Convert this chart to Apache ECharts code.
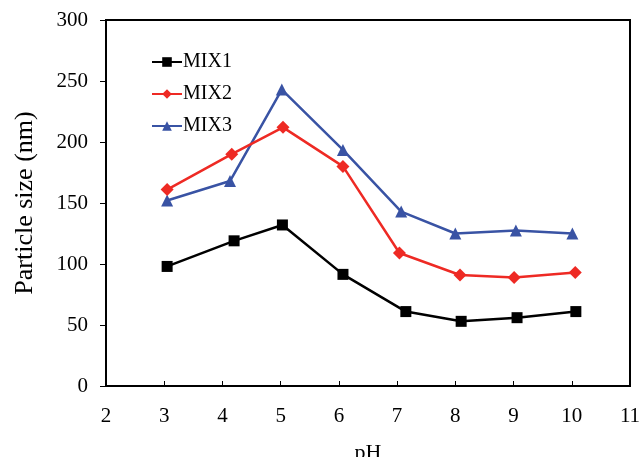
<!DOCTYPE html>
<html><head><meta charset="utf-8">
<script src="https://cdn.jsdelivr.net/npm/echarts@6/dist/echarts.min.js"></script>
<style>html,body{margin:0;padding:0;background:#fff}#c{width:640px;height:457px}</style>
</head><body><div id="c"></div>
<script>
const seriesNames = ['MIX1', 'MIX2', 'MIX3'];
const mix1 = [[3.05, 98], [4.2, 119], [5.03, 132], [6.07, 91.5], [7.15, 61], [8.1, 53], [9.06, 56], [10.07, 61]];
const mix2 = [[3.05, 161], [4.16, 190], [5.04, 212], [6.07, 180], [7.04, 109], [8.08, 91], [9.01, 89], [10.06, 93]];
const mix3 = [[3.05, 152], [4.13, 168], [5.02, 243], [6.07, 193.5], [7.07, 143], [8.0, 125], [9.04, 127.5], [10.01, 125]];
const colors = ['#000000', '#ee2a24', '#3953a4'];
const symbols = ['rect', 'diamond', 'triangle'];
const symbolSizes = [11, 13, 12];
const xTitle = 'pH';
const yTitle = 'Particle size (nm)';

const font = '"Liberation Serif", "Times New Roman", serif';
const chart = echarts.init(document.getElementById('c'), null, {renderer: 'canvas'});
const data = [mix1, mix2, mix3];
chart.setOption({
  animation: false,
  backgroundColor: '#fff',
  grid: {left: 106, right: 10, top: 20, bottom: 71, show: true, borderColor: '#000', borderWidth: 2, containLabel: false, outerBoundsMode: 'none'},
  legend: {
    orient: 'vertical', left: 146, top: 47, itemWidth: 30, itemHeight: 12, itemGap: 12,
    textStyle: {fontFamily: font, fontSize: 20, color: '#000', padding: [0, 0, 0, -4]},
    data: seriesNames
  },
  xAxis: {
    type: 'value', min: 2, max: 11, interval: 1,
    name: xTitle, nameLocation: 'middle', nameGap: 56,
    nameTextStyle: {fontFamily: font, fontSize: 22, color: '#000'},
    axisLine: {show: true, lineStyle: {color: '#000', width: 2}},
    axisTick: {show: true, inside: true, length: 5, lineStyle: {color: '#000', width: 1}},
    axisLabel: {fontFamily: font, fontSize: 21, color: '#000', margin: 20},
    splitLine: {show: false}
  },
  yAxis: {
    type: 'value', min: 0, max: 300, interval: 50,
    name: yTitle, nameLocation: 'middle', nameGap: 68,
    nameTextStyle: {fontFamily: font, fontSize: 26, color: '#000'},
    axisLine: {show: true, lineStyle: {color: '#000', width: 2}},
    axisTick: {show: true, inside: false, length: 6, lineStyle: {color: '#000', width: 1}},
    axisLabel: {fontFamily: font, fontSize: 21, color: '#000', margin: 18},
    splitLine: {show: false}
  },
  series: seriesNames.map((n, i) => ({
    name: n, type: 'line', data: data[i],
    symbol: symbols[i], symbolSize: symbolSizes[i],
    lineStyle: {color: colors[i], width: 2.5},
    itemStyle: {color: colors[i]},
    z: 3 - i
  }))
});
</script></body></html>
